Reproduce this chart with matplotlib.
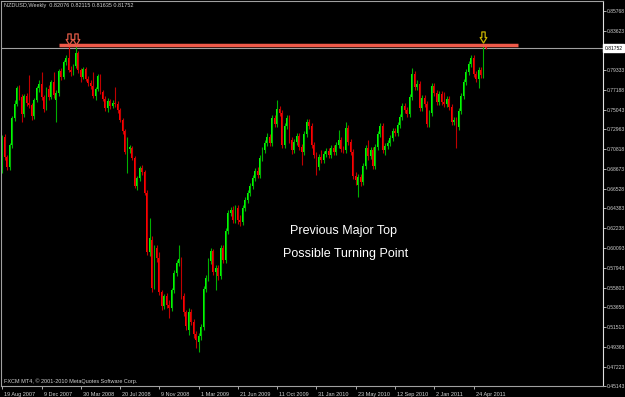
import numpy as np
import matplotlib
matplotlib.use("Agg")
import matplotlib.pyplot as plt
from matplotlib.path import Path
from matplotlib import transforms

# NZDUSD weekly bars, week of 19 Aug 2007 up to end of May 2011
opens = [
    .6963, .7212, .6995, .6887, .7125, .7418, .7569, .7743, .7645, .7461,
    .7656, .7580, .7559, .7439, .7613, .7743, .7786, .7645, .7526, .7732,
    .7645, .7808, .7613, .7689, .7927, .7862, .8024, .8068, .7938, .7916,
    .7981, .8122, .7938, .7862, .7949, .7840, .7797, .7764, .7656, .7732,
    .7873, .7699, .7624, .7526, .7602, .7548, .7580, .7569, .7504, .7396,
    .7277, .7049, .7082, .7093, .6984, .6681, .6768, .6876, .6833, .6605,
    .5966, .6096, .5609, .6009, .5901, .5533, .5381, .5489, .5392, .5359,
    .5554, .5739, .5847, .5890, .5489, .5316, .5121, .5316, .5208, .5078,
    .4991, .5056, .5154, .5565, .5684, .5869, .5977, .5749, .5793, .5706,
    .6009, .5879, .6194, .6389, .6421, .6313, .6443, .6313, .6291, .6443,
    .6529, .6605, .6681, .6768, .6844, .6800, .6984, .7071, .7147, .7212,
    .7147, .7418, .7353, .7515, .7472, .7125, .7331, .7418, .7179, .7071,
    .7158, .7223, .7104, .7049, .7244, .7374, .7331, .7125, .7017, .6887,
    .6995, .6963, .7028, .7060, .7017, .7093, .7049, .7125, .7179, .7082,
    .7071, .7309, .7158, .7049, .6789, .6692, .6779, .6724, .6898, .7093,
    .7006, .7071, .6898, .7104, .7244, .7331, .7071, .7114, .7147, .7201,
    .7277, .7255, .7342, .7429, .7548, .7504, .7461, .7645, .7894, .7754,
    .7786, .7526, .7634, .7569, .7353, .7472, .7764, .7689, .7591, .7678,
    .7591, .7569, .7624, .7537, .7374, .7396, .7320, .7494, .7656, .7808,
    .7916, .8003, .8068, .7894, .7840, .7938, .7884, .82076,
]
highs = [
    .7234, .7244, .7017, .7147, .7439, .7613, .7764, .7775, .7678, .7678,
    .7689, .7884, .7580, .7634, .7764, .7829, .7916, .7667, .7754, .7775,
    .7829, .7916, .7721, .7949, .7959, .8046, .8100, .8198, .7981, .8003,
    .8198, .8144, .7959, .7970, .7970, .7873, .7829, .7916, .7754, .7894,
    .7894, .7721, .7656, .7634, .7624, .7613, .7754, .7602, .7526, .7418,
    .7299, .7212, .7125, .7114, .7006, .6789, .6898, .6909, .6854, .6638,
    .6334, .6139, .6042, .6042, .5966, .5554, .5511, .5522, .5446, .5576,
    .5771, .5879, .6042, .5912, .5522, .5338, .5359, .5349, .5240, .5110,
    .5089, .5186, .5598, .5717, .5901, .6009, .5999, .5825, .5825, .6042,
    .6042, .6226, .6421, .6454, .6464, .6475, .6475, .6367, .6475, .6562,
    .6638, .6714, .6800, .6876, .6887, .7017, .7104, .7179, .7255, .7244,
    .7450, .7450, .7613, .7548, .7504, .7364, .7450, .7450, .7212, .7190,
    .7255, .7255, .7136, .7277, .7407, .7407, .7364, .7158, .7049, .7028,
    .7071, .7060, .7093, .7093, .7125, .7125, .7158, .7288, .7212, .7114,
    .7374, .7342, .7190, .7082, .6833, .6811, .6811, .6930, .7125, .7179,
    .7104, .7104, .7136, .7277, .7364, .7364, .7147, .7179, .7234, .7309,
    .7309, .7374, .7461, .7580, .7580, .7537, .7678, .7959, .7927, .7829,
    .7819, .7667, .7667, .7602, .7504, .7797, .7797, .7721, .7710, .7710,
    .7699, .7656, .7656, .7569, .7429, .7429, .7526, .7689, .7840, .7949,
    .8035, .8100, .8100, .7927, .7970, .7970, .8219, .82115,
]
lows = [
    .6822, .6963, .6854, .6854, .7093, .7385, .7548, .7613, .7374, .7429,
    .7548, .7526, .7396, .7407, .7591, .7699, .7613, .7483, .7504, .7613,
    .7624, .7634, .7374, .7656, .7829, .7840, .7992, .7916, .7873, .7884,
    .7959, .7905, .7808, .7840, .7819, .7764, .7732, .7634, .7613, .7710,
    .7678, .7602, .7494, .7483, .7515, .7526, .7537, .7472, .7374, .7244,
    .7028, .6822, .7039, .6963, .6659, .6638, .6735, .6800, .6584, .5934,
    .5923, .5533, .5565, .5858, .5500, .5338, .5349, .5359, .5251, .5327,
    .5522, .5706, .5814, .5457, .5273, .5121, .5067, .5175, .5034, .4926,
    .4883, .5013, .5121, .5533, .5652, .5836, .5717, .5554, .5663, .5674,
    .5847, .5847, .6161, .6356, .6280, .6280, .6269, .6248, .6259, .6410,
    .6497, .6573, .6649, .6735, .6768, .6768, .6952, .7039, .7114, .7114,
    .7114, .7320, .7320, .7439, .7093, .7093, .7299, .7147, .7028, .7039,
    .7125, .7071, .6909, .7017, .7212, .7299, .7093, .6984, .6800, .6854,
    .6930, .6930, .6995, .6984, .6984, .7017, .7017, .7093, .7049, .7039,
    .7039, .7125, .7017, .6757, .6692, .6562, .6681, .6692, .6865, .6963,
    .6974, .6865, .6865, .7071, .7212, .7039, .7017, .7082, .7114, .7169,
    .7223, .7223, .7309, .7396, .7472, .7429, .7429, .7613, .7721, .7721,
    .7494, .7494, .7537, .7320, .7320, .7439, .7656, .7559, .7559, .7559,
    .7537, .7537, .7504, .7342, .7342, .7093, .7288, .7461, .7624, .7775,
    .7884, .7970, .7862, .7808, .7743, .7851, .7851, .81635,
]
closes = [
    .7212, .6995, .6887, .7125, .7418, .7569, .7743, .7645, .7461, .7656,
    .7580, .7559, .7439, .7613, .7743, .7786, .7645, .7515, .7732, .7645,
    .7808, .7667, .7689, .7927, .7862, .8024, .8068, .7938, .7916, .7981,
    .8122, .7938, .7862, .7949, .7840, .7797, .7764, .7656, .7732, .7873,
    .7699, .7624, .7526, .7602, .7548, .7580, .7569, .7504, .7396, .7277,
    .7049, .7082, .7104, .6984, .6681, .6768, .6876, .6833, .6605, .5966,
    .6118, .5576, .6020, .5901, .5533, .5381, .5489, .5392, .5359, .5554,
    .5739, .5847, .5890, .5489, .5316, .5164, .5316, .5208, .5078, .5013,
    .5056, .5154, .5565, .5684, .5869, .5977, .5749, .5793, .5706, .6009,
    .5879, .6194, .6389, .6421, .6313, .6443, .6313, .6291, .6443, .6529,
    .6605, .6681, .6768, .6844, .6800, .6984, .7071, .7147, .7212, .7147,
    .7418, .7353, .7515, .7472, .7125, .7331, .7418, .7179, .7071, .7158,
    .7223, .7104, .7049, .7244, .7374, .7331, .7125, .7017, .6887, .6995,
    .6963, .7028, .7060, .7017, .7093, .7049, .7125, .7179, .7082, .7071,
    .7309, .7158, .7049, .6789, .6746, .6779, .6724, .6898, .7093, .7006,
    .7071, .6898, .7104, .7244, .7331, .7071, .7114, .7147, .7201, .7277,
    .7255, .7342, .7429, .7548, .7504, .7461, .7645, .7894, .7754, .7786,
    .7526, .7634, .7569, .7353, .7472, .7764, .7689, .7591, .7678, .7591,
    .7569, .7624, .7537, .7374, .7396, .7320, .7494, .7656, .7808, .7916,
    .8003, .8068, .7894, .7840, .7938, .7884, .82076, .81752,
]

date_labels = ['19 Aug 2007', '9 Dec 2007', '30 Mar 2008', '20 Jul 2008',
               '9 Nov 2008', '1 Mar 2009', '21 Jun 2009', '11 Oct 2009',
               '31 Jan 2010', '23 May 2010', '12 Sep 2010', '2 Jan 2011',
               '24 Apr 2011']
# 0.81478 sits under the current price box, so it is left out
price_labels = ['0.85768', '0.83623', '0.79333', '0.77188',
                '0.75043', '0.72963', '0.70818', '0.68673', '0.66528',
                '0.64383', '0.62238', '0.60093', '0.57948', '0.55803',
                '0.53658', '0.51513', '0.49368', '0.47223', '0.45143']

# hand drawn objects on the chart
resist_level = 0.8209
resist_from, resist_to = 23, 210
top_bars = [27, 30]
retest_bar = 196

small = 'Liberation Sans'

o = np.array(opens)
h = np.array(highs)
l = np.array(lows)
c = np.array(closes)
x = np.arange(len(c))
up = c >= o

fig = plt.figure(figsize=(6.25, 3.97), dpi=100, facecolor='black')
ax = fig.add_axes([1.5 / 625, 11 / 397, 601.5 / 625, 385 / 397])
ax.set_facecolor('black')

# candles
ax.vlines(x, l, h, colors=np.where(up, '#00b000', '#c00000'), linewidth=0.8)
ax.bar(x, np.abs(c - o), bottom=np.minimum(o, c), width=0.75,
       color=np.where(up, '#00ff00', '#ff0000'), linewidth=0)

# last price line and resistance
ax.axhline(c[-1], color='#a0a0a0', linewidth=0.8, zorder=1)
ax.hlines(resist_level, resist_from, resist_to, colors='#f05a4a',
          linewidth=2.5, zorder=3)

# hollow down arrows
verts = [(-0.15, 0.5), (0.15, 0.5), (0.15, 0.0), (0.3, 0.0), (0.0, -0.5),
         (-0.3, 0.0), (-0.15, 0.0), (-0.15, 0.5)]
codes = [Path.MOVETO] + [Path.LINETO] * 6 + [Path.CLOSEPOLY]
arrow = Path(verts, codes)
lift = ax.transData + transforms.ScaledTranslation(0, 7 / 100, fig.dpi_scale_trans)
ax.plot(top_bars, h[top_bars], ls='none', marker=arrow, ms=8, mfc='none',
        mec='#e05a46', mew=0.9, transform=lift, zorder=4)
ax.plot([retest_bar], [h[retest_bar]], ls='none', marker=arrow, ms=8,
        mfc='none', mec='#c8b400', mew=0.9, transform=lift, zorder=4)

ax.set_xlim(-0.3, 244.7)
ax.set_ylim(0.4514, 0.86852)

for side in ['left', 'top', 'bottom']:
    ax.spines[side].set_color('#a0a0a0')
    ax.spines[side].set_linewidth(0.8)
ax.spines['right'].set_color('#e0e0e0')
ax.spines['right'].set_linewidth(0.8)

ax.yaxis.tick_right()
ax.set_yticks([float(s) for s in price_labels])
ax.set_yticklabels(price_labels, family=small)
ax.tick_params(axis='y', length=2, width=0.6, color='#c8c8c8', pad=0.4,
               labelsize=3.6, labelcolor='#d0d0d0')

ax.set_xticks(np.arange(0, len(c), 16))
ax.set_xticklabels(date_labels, family=small)
ax.tick_params(axis='x', length=2.5, width=0.6, color='#c8c8c8', pad=1.5,
               labelsize=4, labelcolor='#d0d0d0')
shift = transforms.ScaledTranslation(2 / 100, 0, fig.dpi_scale_trans)
for lbl in ax.get_xticklabels():
    lbl.set_horizontalalignment('left')
    lbl.set_transform(lbl.get_transform() + shift)

# current price box on the scale
box_shift = transforms.ScaledTranslation(1.5 / 100, 0, fig.dpi_scale_trans)
ax.text(1.0, c[-1], f"{c[-1]:.5f}",
        transform=transforms.blended_transform_factory(ax.transAxes, ax.transData) + box_shift,
        fontsize=3.6, family=small, color='black', va='center', ha='left', zorder=6,
        bbox=dict(boxstyle='square,pad=0.3', fc='white', ec='white'),
        clip_on=False)

fig.text(4 / 625, 1 - 6 / 397,
         f"NZDUSD,Weekly  {o[-1]:.5f} {h[-1]:.5f} {l[-1]:.5f} {c[-1]:.5f}",
         fontsize=4, family=small, color='#d0d0d0', va='center', ha='left')
fig.text(4 / 625, 1 - 381 / 397,
         'FXCM MT4, \u00a9 2001-2010 MetaQuotes Software Corp.',
         fontsize=4, family=small, color='#d0d0d0', va='center', ha='left')

fig.text(343.5 / 625, 1 - 231 / 397, 'Previous Major Top', family='Liberation Sans',
         fontsize=9, color='white', ha='center', va='center')
fig.text(346 / 625, 1 - 254 / 397, 'Possible Turning Point', family='Liberation Sans',
         fontsize=9, color='white', ha='center', va='center')

fig.savefig('out.png', dpi=100, facecolor='black')
